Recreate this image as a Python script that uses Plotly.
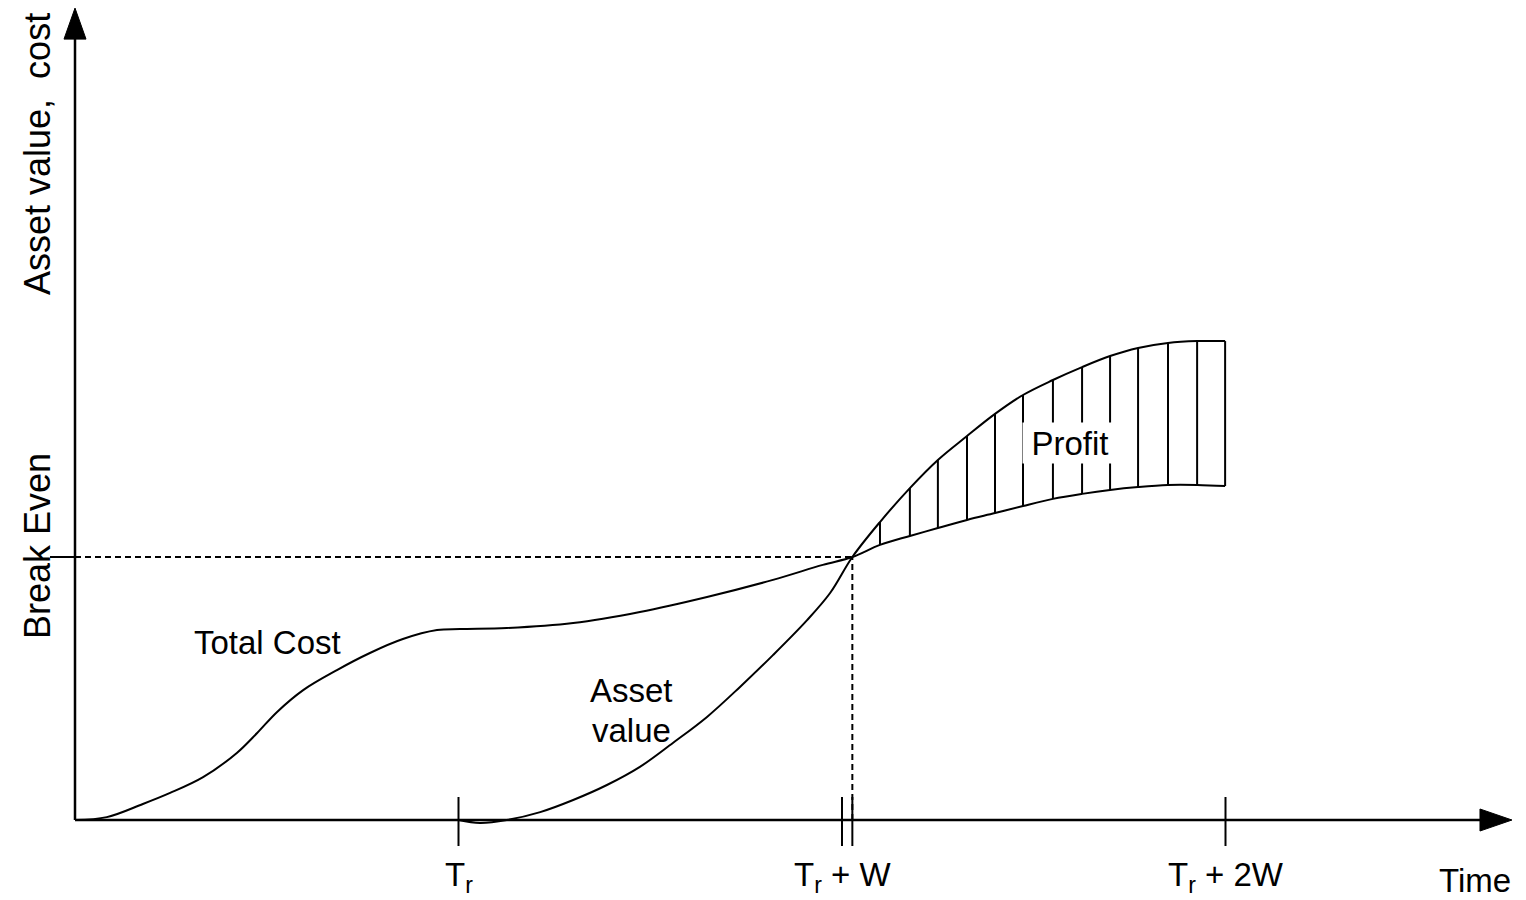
import plotly.graph_objects as go

# ---------------- data ----------------
# time unit: T_r = 10, W = 10 ; value unit: break-even level = 10
T_R = 10.0
W = 10.0
tick_times = [T_R, T_R + W, T_R + 2 * W]
tick_labels = ["T<sub>r</sub>", "T<sub>r</sub> + W", "T<sub>r</sub> + 2W"]
break_even_time = 20.27
break_even_value = 10.0

cost_time = [0, 0.83, 1.77, 2.48, 3.34, 4.22, 4.75, 5.27, 5.95, 6.83, 7.69, 8.55,
             9.44, 10.04, 11.26, 12.99, 14.73, 16.48, 18.20, 19.50]
cost_value = [0, 0.11, 0.61, 1.03, 1.63, 2.55, 3.31, 4.11, 4.94, 5.70, 6.35, 6.88,
              7.22, 7.26, 7.30, 7.49, 7.91, 8.48, 9.13, 9.70]

asset_time = [10.0, 10.56, 11.26, 12.13, 12.99, 13.87, 14.73, 15.59, 16.48, 17.34,
              18.20, 19.09, 19.69]
asset_value = [0.0, -0.11, 0.0, 0.30, 0.76, 1.33, 2.02, 2.93, 3.92, 5.06,
               6.27, 7.60, 8.63]

profit_time = [20.27, 20.99, 21.77, 22.50, 23.26, 23.99, 24.72, 25.50, 26.26,
               26.99, 27.72, 28.50, 29.26, 29.99]
profit_cost = [10.0, 10.46, 10.80, 11.10, 11.41, 11.67, 11.94, 12.21, 12.40,
               12.55, 12.66, 12.74, 12.74, 12.70]
profit_asset = [10.0, 11.33, 12.62, 13.69, 14.60, 15.44, 16.16, 16.73, 17.22,
                17.64, 17.95, 18.14, 18.21, 18.21]

# ---------------- layout constants ----------------
FIG_W, FIG_H = 1526, 900
X0_PX, PX_PER_T = 75, 38.35
Y0_PX, PX_PER_V = 820, 26.3
AXIS_X_TIP = 37.47
AXIS_Y_TIP = 30.87
FONT = dict(family="Liberation Sans, Arial, Helvetica, sans-serif", size=33, color="black")
FONT_V = dict(family="Liberation Sans, Arial, Helvetica, sans-serif", size=36, color="black")
LW = 2

x_range = [-X0_PX / PX_PER_T, (FIG_W - X0_PX) / PX_PER_T]
y_range = [-(FIG_H - Y0_PX) / PX_PER_V, Y0_PX / PX_PER_V]

fig = go.Figure()

# curves
fig.add_trace(go.Scatter(
    x=cost_time + profit_time, y=cost_value + profit_cost, mode="lines",
    line=dict(color="black", width=LW, shape="spline", smoothing=1.0),
    hoverinfo="skip", showlegend=False))
fig.add_trace(go.Scatter(
    x=asset_time + profit_time, y=asset_value + profit_asset, mode="lines",
    line=dict(color="black", width=LW, shape="spline", smoothing=1.0),
    hoverinfo="skip", showlegend=False))

# profit hatching
hx, hy = [], []
for t, c, a in zip(profit_time[1:], profit_cost[1:], profit_asset[1:]):
    hx += [t, t, None]
    hy += [c, a, None]
fig.add_trace(go.Scatter(x=hx, y=hy, mode="lines",
                         line=dict(color="black", width=LW),
                         hoverinfo="skip", showlegend=False))

shapes = []
# axes
shapes.append(dict(type="line", x0=0, y0=0, x1=AXIS_X_TIP - 15 / PX_PER_T, y1=0,
                   line=dict(color="black", width=2.5)))
shapes.append(dict(type="line", x0=0, y0=0, x1=0, y1=AXIS_Y_TIP - 15 / PX_PER_V,
                   line=dict(color="black", width=2.5)))
# arrowheads
shapes.append(dict(type="path", xref="x", yref="y", xsizemode="pixel", ysizemode="pixel",
                   xanchor=AXIS_X_TIP, yanchor=0, path="M0,0 L-32,11 L-32,-11 Z",
                   fillcolor="black", line=dict(color="black", width=1)))
shapes.append(dict(type="path", xref="x", yref="y", xsizemode="pixel", ysizemode="pixel",
                   xanchor=0, yanchor=AXIS_Y_TIP, path="M0,0 L-11,-31 L11,-31 Z",
                   fillcolor="black", line=dict(color="black", width=1)))
# x ticks
for t in tick_times + [break_even_time]:
    shapes.append(dict(type="line", xref="x", yref="y", ysizemode="pixel", yanchor=0,
                       x0=t, x1=t, y0=-26, y1=23, line=dict(color="black", width=LW)))
# break-even tick on y axis
shapes.append(dict(type="line", xref="x", yref="y", xsizemode="pixel", xanchor=0,
                   x0=-25, x1=0, y0=break_even_value, y1=break_even_value,
                   line=dict(color="black", width=LW)))
# dashed guides
shapes.append(dict(type="line", x0=0, x1=break_even_time, y0=break_even_value,
                   y1=break_even_value, line=dict(color="black", width=LW, dash="6px,4px")))
shapes.append(dict(type="line", x0=break_even_time, x1=break_even_time, y0=0,
                   y1=break_even_value, line=dict(color="black", width=LW, dash="6px,4px")))

ann = []
for t, lab in zip(tick_times, tick_labels):
    ann.append(dict(x=t, y=0, text=lab, showarrow=False, font=FONT,
                    xanchor="center", yanchor="middle", yshift=-57))
ann.append(dict(x=(1475 - X0_PX) / PX_PER_T, y=0, text="Time", showarrow=False, font=FONT,
                xanchor="center", yanchor="middle", yshift=-60))
ann.append(dict(x=0, y=(Y0_PX - 154) / PX_PER_V, text="Asset value,  cost", showarrow=False,
                font=FONT_V, textangle=-90, xanchor="center", yanchor="middle", xshift=-38))
ann.append(dict(x=0, y=(Y0_PX - 546) / PX_PER_V, text="Break Even", showarrow=False,
                font=FONT_V, textangle=-90, xanchor="center", yanchor="middle", xshift=-38))
ann.append(dict(x=(267.5 - X0_PX) / PX_PER_T, y=(Y0_PX - 642) / PX_PER_V, text="Total Cost",
                showarrow=False, font=FONT, xanchor="center", yanchor="middle"))
ann.append(dict(x=(631 - X0_PX) / PX_PER_T, y=(Y0_PX - 690) / PX_PER_V, text="Asset",
                showarrow=False, font=FONT, xanchor="center", yanchor="middle"))
ann.append(dict(x=(631 - X0_PX) / PX_PER_T, y=(Y0_PX - 730) / PX_PER_V, text="value",
                showarrow=False, font=FONT, xanchor="center", yanchor="middle"))
ann.append(dict(x=(1070 - X0_PX) / PX_PER_T, y=(Y0_PX - 443) / PX_PER_V, text="Profit",
                showarrow=False, font=FONT, xanchor="center", yanchor="middle",
                bgcolor="white", width=92, height=38))

fig.update_layout(
    width=FIG_W, height=FIG_H,
    margin=dict(l=0, r=0, t=0, b=0),
    paper_bgcolor="white", plot_bgcolor="white",
    xaxis=dict(range=x_range, visible=False, fixedrange=True),
    yaxis=dict(range=y_range, visible=False, fixedrange=True),
    shapes=shapes, annotations=ann, hovermode=False,
)

fig.write_html("out.html", config={"displayModeBar": False},
               post_script="document.body.style.margin='0';"
                           "document.body.style.overflow='hidden';")
